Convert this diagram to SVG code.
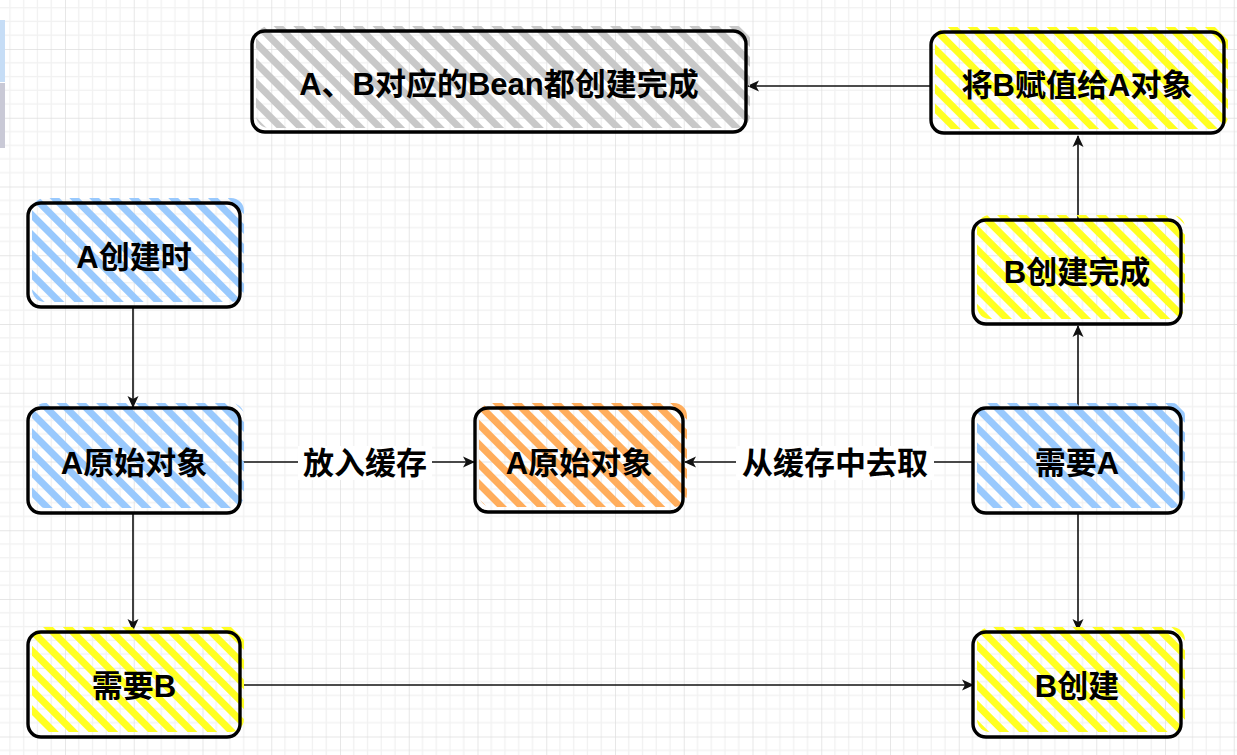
<svg xmlns="http://www.w3.org/2000/svg" width="1237" height="755" viewBox="0 0 1237 755">
<style>
.box{fill:none;stroke:#000;stroke-width:3.4;stroke-linejoin:round}
.t{font-family:"Liberation Sans","Noto Sans CJK SC",sans-serif;font-weight:bold;font-size:31px;fill:#000;text-anchor:middle;dominant-baseline:central}
.edge{stroke:#111;stroke-width:1.6;fill:none}
.lbl{fill:#fff}
</style>
<defs>
<pattern id="grid" patternUnits="userSpaceOnUse" x="65" y="49" width="68.75" height="68.75">
<rect width="68.75" height="68.75" fill="#fff"/>
<path d="M13.75 0V68.75M27.5 0V68.75M41.25 0V68.75M55 0V68.75M0 13.75H68.75M0 27.5H68.75M0 41.25H68.75M0 55H68.75" stroke="#f1f1f1" stroke-width="1.2"/>
<path d="M0 0V68.75M0 0H68.75" stroke="#dedede" stroke-width="1.4"/>
</pattern>
<pattern id="hb" patternUnits="userSpaceOnUse" width="14" height="14" patternTransform="rotate(45)"><rect y="0" width="14" height="7" fill="#99c9fd"/></pattern>
<pattern id="hy" patternUnits="userSpaceOnUse" width="14" height="14" patternTransform="rotate(45)"><rect y="0" width="14" height="7" fill="#ffff22"/></pattern>
<pattern id="ho" patternUnits="userSpaceOnUse" width="14" height="14" patternTransform="rotate(45)"><rect y="0" width="14" height="7" fill="#ffad5c"/></pattern>
<pattern id="hg" patternUnits="userSpaceOnUse" width="14" height="14" patternTransform="rotate(45)"><rect y="0" width="14" height="7" fill="#c8c8c8"/></pattern>
<marker id="arr" viewBox="0 0 12 12" refX="11" refY="6" markerWidth="12" markerHeight="12" markerUnits="userSpaceOnUse" orient="auto">
<path d="M0 0.5L12 6L0 11.5L3 6Z" fill="#111"/>
</marker>
</defs>
<rect width="1237" height="755" fill="url(#grid)"/>
<rect x="0" y="20" width="5" height="62" fill="#c6ddf6"/>
<rect x="0" y="83" width="5" height="65" fill="#c9c9d6"/>

<g id="connectors">
<path class="edge" d="M931 86H748" marker-end="url(#arr)"/>
<path class="edge" d="M1078 220V136" marker-end="url(#arr)"/>
<path class="edge" d="M1078 408V326" marker-end="url(#arr)"/>
<path class="edge" d="M133 307V407" marker-end="url(#arr)"/>
<path class="edge" d="M133 513V630" marker-end="url(#arr)"/>
<path class="edge" d="M240 462H474" marker-end="url(#arr)"/>
<path class="edge" d="M973 462H685" marker-end="url(#arr)"/>
<path class="edge" d="M1078 513V630" marker-end="url(#arr)"/>
<path class="edge" d="M240 685H973" marker-end="url(#arr)"/>
<rect class="lbl" x="298" y="446" width="134" height="34"/>
<text class="t" x="365" y="463">放入缓存</text>
<rect class="lbl" x="736" y="446" width="198" height="34"/>
<text class="t" x="835" y="463">从缓存中去取</text>
</g>

<g id="n-ab-done">
<rect x="256" y="26" width="494" height="102" rx="13" fill="url(#hg)"/>
<rect class="box" x="252" y="31" width="494" height="101" rx="13"/>
<text class="t" x="499" y="84">A、B对应的Bean都创建完成</text>
</g>
<g id="n-assign">
<rect x="935" y="27" width="293" height="102" rx="13" fill="url(#hy)"/>
<rect class="box" x="931" y="32" width="293" height="101" rx="13"/>
<text class="t" x="1077" y="85">将B赋值给A对象</text>
</g>
<g id="n-b-done">
<rect x="977" y="215" width="208" height="104" rx="13" fill="url(#hy)"/>
<rect class="box" x="973" y="220" width="208" height="104" rx="13"/>
<text class="t" x="1077" y="272">B创建完成</text>
</g>
<g id="n-a-create">
<rect x="32" y="198" width="212" height="104" rx="13" fill="url(#hb)"/>
<rect class="box" x="28" y="203" width="212" height="104" rx="13"/>
<text class="t" x="134" y="257">A创建时</text>
</g>
<g id="n-a-raw">
<rect x="32" y="403" width="212" height="105" rx="13" fill="url(#hb)"/>
<rect class="box" x="28" y="408" width="212" height="105" rx="13"/>
<text class="t" x="134" y="463">A原始对象</text>
</g>
<g id="n-a-cache">
<rect x="479" y="403" width="208" height="104" rx="13" fill="url(#ho)"/>
<rect class="box" x="475" y="408" width="208" height="104" rx="13"/>
<text class="t" x="579" y="463">A原始对象</text>
</g>
<g id="n-need-a">
<rect x="977" y="403" width="208" height="105" rx="13" fill="url(#hb)"/>
<rect class="box" x="973" y="408" width="208" height="105" rx="13"/>
<text class="t" x="1077" y="463">需要A</text>
</g>
<g id="n-need-b">
<rect x="32" y="627" width="212" height="105" rx="13" fill="url(#hy)"/>
<rect class="box" x="28" y="632" width="212" height="105" rx="13"/>
<text class="t" x="134" y="686">需要B</text>
</g>
<g id="n-b-create">
<rect x="977" y="627" width="208" height="105" rx="13" fill="url(#hy)"/>
<rect class="box" x="973" y="632" width="208" height="105" rx="13"/>
<text class="t" x="1077" y="686">B创建</text>
</g>
</svg>
